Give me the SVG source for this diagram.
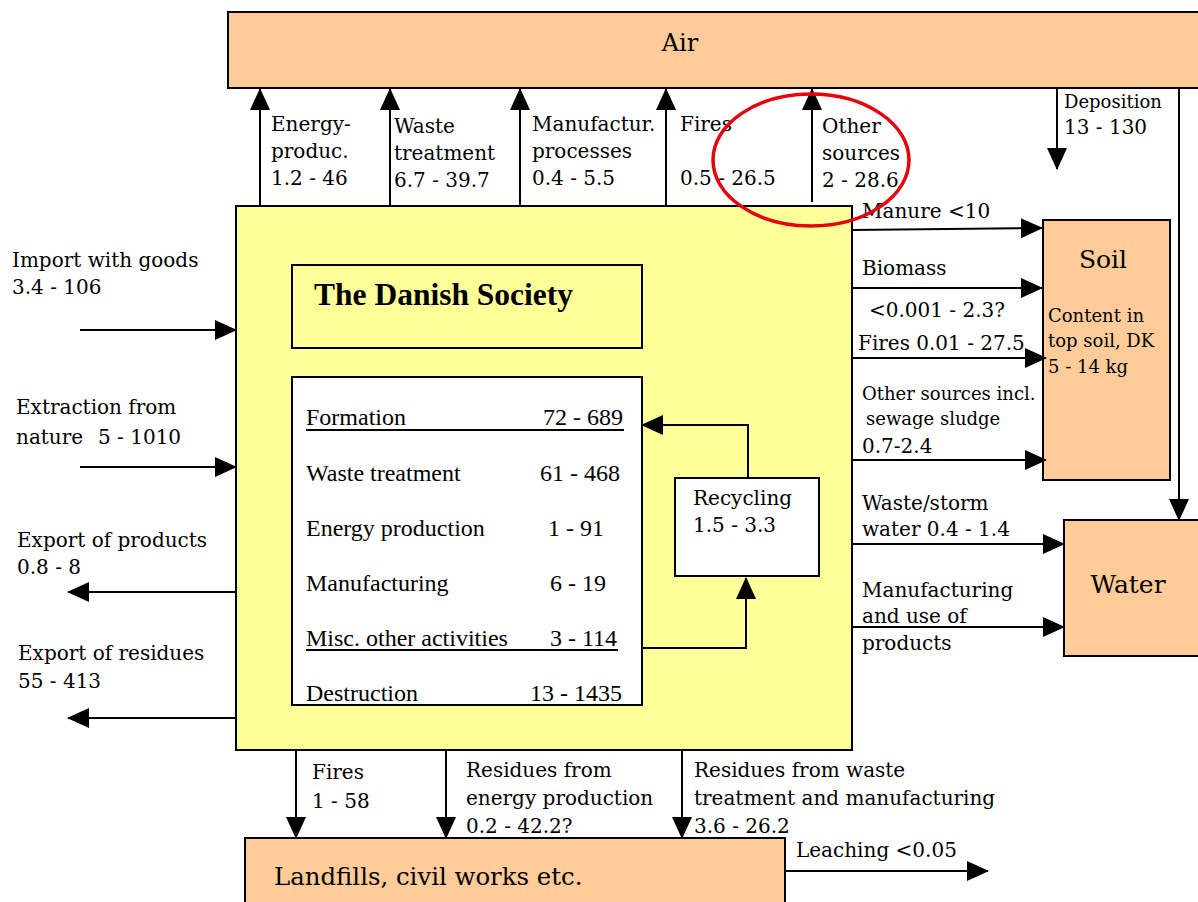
<svg xmlns="http://www.w3.org/2000/svg" width="1198" height="902" viewBox="0 0 1198 902">
<defs>
<marker id="ahb" markerWidth="22" markerHeight="22" viewBox="0 0 22 22" refX="21" refY="11" orient="auto" markerUnits="userSpaceOnUse">
<path d="M0,1 L22,11 L0,21 z" fill="#000"/>
</marker>
</defs>
<style>
text{font-family:"DejaVu Serif","Liberation Serif",serif;fill:#000;font-size:20px}
.box{stroke:#000;stroke-width:2}
.orange{fill:#FFCC99}
.yellow{fill:#FFFF99}
.white{fill:#fff}
.c{stroke:#000;stroke-width:2;fill:none;marker-end:url(#ahb)}
.big{font-size:25px}
.sm{font-size:18px}
.lst{font-family:"Liberation Serif","Times New Roman",serif;font-size:24px}
</style>
<rect width="1198" height="902" fill="#fff"/>

<g id="air">
<rect class="box orange" x="228" y="12" width="980" height="76"/>
<text x="680" y="51" text-anchor="middle" style="font-size:24px">Air</text>
</g>

<g id="society">
<rect class="box yellow" x="236" y="206" width="616" height="544"/>
</g>
<g id="header">
<rect class="box yellow" x="292" y="265" width="350" height="83"/>
<text x="314" y="305" font-weight="bold" style="font-family:'Liberation Serif','Times New Roman',serif;font-size:31.5px">The Danish Society</text>
</g>
<g id="activities">
<rect class="box white" x="292" y="377" width="350" height="328"/>
<text class="lst" x="306" y="425">Formation</text><text class="lst" x="623" y="425" text-anchor="end">72 - 689</text>
<line x1="306" y1="430" x2="624" y2="430" stroke="#000" stroke-width="2"/>
<text class="lst" x="306" y="481">Waste treatment</text><text class="lst" x="620" y="481" text-anchor="end">61 - 468</text>
<text class="lst" x="306" y="536">Energy production</text><text class="lst" x="604" y="536" text-anchor="end">1 - 91</text>
<text class="lst" x="306" y="591">Manufacturing</text><text class="lst" x="606" y="591" text-anchor="end">6 - 19</text>
<text class="lst" x="306" y="646">Misc. other activities</text><text class="lst" x="617" y="646" text-anchor="end">3 - 114</text>
<line x1="306" y1="650" x2="618" y2="650" stroke="#000" stroke-width="2"/>
<text class="lst" x="306" y="701">Destruction</text><text class="lst" x="622" y="701" text-anchor="end">13 - 1435</text>
</g>
<g id="recycling">
<rect class="box white" x="675" y="478" width="144" height="98"/>
<text x="693" y="505">Recycling</text>
<text x="693" y="532">1.5 - 3.3</text>
</g>

<g id="soil">
<rect class="box orange" x="1043" y="220" width="127" height="260"/>
<text class="big" x="1103" y="268" text-anchor="middle">Soil</text>
<text class="sm" x="1048" y="322">Content in</text>
<text class="sm" x="1048" y="347">top soil, DK</text>
<text class="sm" x="1048" y="373">5 - 14 kg</text>
</g>
<g id="water">
<rect class="box orange" x="1064" y="520" width="144" height="136"/>
<text class="big" x="1128" y="593" text-anchor="middle">Water</text>
</g>
<g id="landfills">
<rect class="box orange" x="245" y="838" width="540" height="80"/>
<text x="274" y="885" style="font-size:24.4px">Landfills, civil works etc.</text>
</g>

<g id="connectors">
<line class="c" x1="260" y1="206" x2="260" y2="89"/>
<line class="c" x1="390" y1="206" x2="390" y2="89"/>
<line class="c" x1="520" y1="206" x2="520" y2="89"/>
<line class="c" x1="666" y1="206" x2="666" y2="89"/>
<line class="c" x1="812" y1="202" x2="812" y2="89"/>
<line class="c" x1="1057" y1="88" x2="1057" y2="169"/>
<line class="c" x1="1179" y1="88" x2="1179" y2="520"/>
<line class="c" x1="80" y1="330" x2="236" y2="330"/>
<line class="c" x1="80" y1="467" x2="236" y2="467"/>
<line class="c" x1="236" y1="592" x2="68" y2="592"/>
<line class="c" x1="236" y1="718" x2="68" y2="718"/>
<line class="c" x1="852" y1="230" x2="1042" y2="228"/>
<line class="c" x1="852" y1="288" x2="1042" y2="288"/>
<line class="c" x1="852" y1="358" x2="1046" y2="358"/>
<line class="c" x1="852" y1="460" x2="1046" y2="460"/>
<line class="c" x1="852" y1="544" x2="1064" y2="544"/>
<line class="c" x1="852" y1="627" x2="1064" y2="627"/>
<line class="c" x1="296" y1="750" x2="296" y2="838"/>
<line class="c" x1="446" y1="750" x2="446" y2="838"/>
<line class="c" x1="682" y1="750" x2="682" y2="838"/>
<line class="c" x1="785" y1="871" x2="988" y2="871"/>
<polyline class="c" points="748,478 748,425 642,425"/>
<polyline class="c" points="642,648 746,648 746,578"/>
</g>

<g id="labels">
<text x="271" y="131">Energy-</text><text x="271" y="158">produc.</text><text x="271" y="185">1.2 - 46</text>
<text x="394" y="133">Waste</text><text x="394" y="160">treatment</text><text x="394" y="187">6.7 - 39.7</text>
<text x="532" y="131">Manufactur.</text><text x="532" y="158">processes</text><text x="532" y="185">0.4 - 5.5</text>
<text x="680" y="131">Fires</text><text x="680" y="185">0.5 - 26.5</text>
<text x="822" y="133">Other</text><text x="822" y="160">sources</text><text x="822" y="187">2 - 28.6</text>
<text class="sm" x="1064" y="108">Deposition</text><text x="1064" y="134">13 - 130</text>
<text x="862" y="218">Manure &lt;10</text>
<text x="862" y="275">Biomass</text>
<text x="869" y="317">&lt;0.001 - 2.3?</text>
<text x="858" y="350">Fires 0.01 - 27.5</text>
<text class="sm" x="862" y="400">Other sources incl.</text>
<text class="sm" x="866" y="425">sewage sludge</text>
<text x="862" y="453">0.7-2.4</text>
<text x="862" y="510">Waste/storm</text><text x="862" y="536">water 0.4 - 1.4</text>
<text x="862" y="597">Manufacturing</text><text x="862" y="623">and use of</text><text x="862" y="650">products</text>
<text x="12" y="267">Import with goods</text><text x="12" y="294">3.4 - 106</text>
<text x="16" y="414">Extraction from</text><text x="16" y="444">nature<tspan x="98">5 - 1010</tspan></text>
<text x="17" y="547">Export of products</text><text x="17" y="574">0.8 - 8</text>
<text x="18" y="660">Export of residues</text><text x="18" y="688">55 - 413</text>
<text x="312" y="779">Fires</text><text x="312" y="808">1 - 58</text>
<text x="466" y="777">Residues from</text><text x="466" y="805">energy production</text><text x="466" y="833">0.2 - 42.2?</text>
<text x="694" y="777">Residues from waste</text><text x="694" y="805">treatment and manufacturing</text><text x="694" y="833">3.6 - 26.2</text>
<text x="796" y="857">Leaching &lt;0.05</text>
</g>

<ellipse id="highlight" cx="811" cy="160" rx="98" ry="66" fill="none" stroke="#E8000B" stroke-width="3.5"/>
</svg>
